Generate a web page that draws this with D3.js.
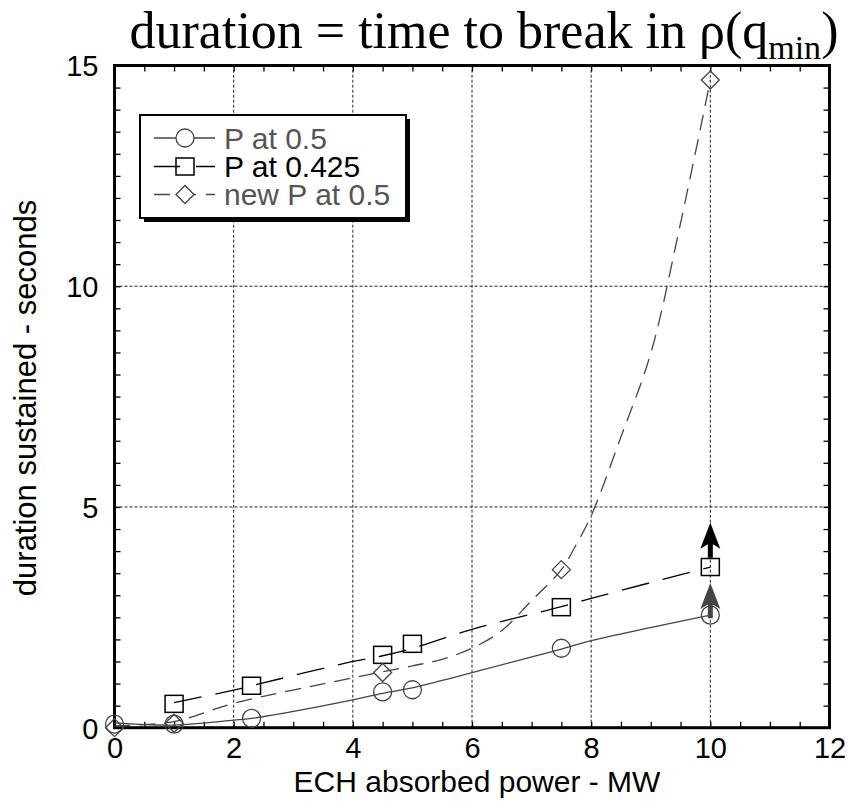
<!DOCTYPE html>
<html>
<head>
<meta charset="utf-8">
<script src="https://cdn.jsdelivr.net/npm/d3@7"></script>
<style>
  body { margin: 0; background: #fff; }
  text { font-family: "Liberation Sans", Arial, sans-serif; }
</style>
</head>
<body>
<svg id="svg1" width="852" height="801"></svg>
<script>
// measured points (ECH power in MW, duration in s)
const powerP05    = [0, 1, 2.3, 4.5, 5, 7.5, 10];
const durP05      = [0.08, 0.08, 0.21, 0.81, 0.86, 1.8, 2.55];
const powerP0425  = [1, 2.3, 4.5, 5, 7.5, 10];
const durP0425    = [0.54, 0.95, 1.65, 1.9, 2.73, 3.64];
const powerNewP   = [0, 1, 4.5, 7.5, 10];
const durNewP     = [0.0, 0.1, 1.25, 3.58, 14.67];

// fitted curves
const fitX05      = [0, 1, 2, 2.3, 4, 4.5, 5, 5.5, 6, 7.5, 8, 10];
const fitY05      = [0.11, 0.06, 0.17, 0.21, 0.63, 0.78, 0.9, 1.07, 1.25, 1.78, 1.97, 2.55];
const fitX0425    = [1, 2, 2.3, 4, 4.5, 5, 6, 7.5, 8, 10];
const fitY0425    = [0.57, 0.85, 0.95, 1.5, 1.63, 1.8, 2.23, 2.74, 2.93, 3.64];
const fitXNew     = [0, 1, 2, 4, 5, 5.5, 6, 6.5, 7, 7.5, 7.75, 8, 8.5, 9, 9.5, 10];
const fitYNew     = [0.04, 0.14, 0.55, 1.13, 1.4, 1.55, 1.8, 2.2, 2.88, 3.58, 4.15, 4.8, 6.59, 8.48, 11.43, 14.67];

// arrows at 10 MW (lower bound markers)
const arrowX      = [10, 10];
const arrowFrom   = [2.48, 3.85];
const arrowTo     = [3.28, 4.64];

const xTicks = d3.range(0, 12.01, 0.5);
const yTicks = d3.range(0, 15.01, 0.5);
const xGrid  = [2, 4, 6, 8, 10];
const yGrid  = [5, 10];

const svg = d3.select("#svg1"),
      x   = d3.scaleLinear().domain([0, 12]).range([114.5, 829.5]),
      y   = d3.scaleLinear().domain([0, 15]).range([727.7, 65.5]),
      fontSize = 29;

// grid
svg.append("g").selectAll("line").data(xGrid).enter().append("line")
    .attr("x1", d => x(d)).attr("x2", d => x(d))
    .attr("y1", y(0)).attr("y2", y(15))
    .attr("stroke", "#222").attr("stroke-width", 1).attr("stroke-dasharray", "3,2");
svg.append("g").selectAll("line").data(yGrid).enter().append("line")
    .attr("x1", x(0)).attr("x2", x(12))
    .attr("y1", d => y(d)).attr("y2", d => y(d))
    .attr("stroke", "#222").attr("stroke-width", 1).attr("stroke-dasharray", "3,2");

// axes, ticks pointing inward
const fmt = d => (d % 2 === 0 ? d : "");
const fmtY = d => (d % 5 === 0 ? d : "");
const axBottom = svg.append("g").attr("transform", `translate(0,${y(0)})`)
    .call(d3.axisBottom(x).tickValues(xTicks).tickSize(-6).tickPadding(10).tickFormat(fmt));
const axTop = svg.append("g").attr("transform", `translate(0,${y(15)})`)
    .call(d3.axisTop(x).tickValues(xTicks).tickSize(-6).tickFormat(""));
const axLeft = svg.append("g").attr("transform", `translate(${x(0)},0)`)
    .call(d3.axisLeft(y).tickValues(yTicks).tickSize(-6).tickPadding(16).tickFormat(fmtY));
const axRight = svg.append("g").attr("transform", `translate(${x(12)},0)`)
    .call(d3.axisRight(y).tickValues(yTicks).tickSize(-6).tickFormat(""));
[axBottom, axTop, axLeft, axRight].forEach(a => {
  a.select(".domain").remove();
  a.selectAll(".tick line").attr("stroke", "#000").attr("stroke-width", 1.3);
  a.selectAll(".tick text").attr("fill", "#000").style("font-size", fontSize + "px")
   .style("font-family", "'Liberation Sans', Arial, sans-serif");
});
axBottom.selectAll(".tick text").attr("dy", "0.71em");
axLeft.selectAll(".tick text").attr("dy", "0.36em");

svg.append("rect")
    .attr("x", x(0)).attr("y", y(15))
    .attr("width", x(12) - x(0)).attr("height", y(0) - y(15))
    .attr("fill", "none").attr("stroke", "#000").attr("stroke-width", 3);

// fitted lines
const line = d3.line().x(d => x(d[0])).y(d => y(d[1])).curve(d3.curveCatmullRom.alpha(0.5));
const zip = (a, b) => a.map((v, i) => [v, b[i]]);

svg.append("path").datum(zip(fitX05, fitY05)).attr("d", line)
    .attr("fill", "none").attr("stroke", "#444").attr("stroke-width", 1.3);
svg.append("path").datum(zip(fitX0425, fitY0425)).attr("d", line)
    .attr("fill", "none").attr("stroke", "#000").attr("stroke-width", 1.3)
    .attr("stroke-dasharray", "28,14");
svg.append("path").datum(zip(fitXNew, fitYNew)).attr("d", line)
    .attr("fill", "none").attr("stroke", "#444").attr("stroke-width", 1.3)
    .attr("stroke-dasharray", "16,9");

// markers
svg.append("g").selectAll("circle").data(zip(powerP05, durP05)).enter().append("circle")
    .attr("cx", d => x(d[0])).attr("cy", d => y(d[1])).attr("r", 9)
    .attr("fill", "none").attr("stroke", "#444").attr("stroke-width", 1.3);
svg.append("g").selectAll("rect").data(zip(powerP0425, durP0425)).enter().append("rect")
    .attr("x", d => x(d[0]) - 9).attr("y", d => y(d[1]) - 8.5).attr("width", 18).attr("height", 17)
    .attr("fill", "none").attr("stroke", "#000").attr("stroke-width", 1.5);
const diamond = (cx, cy, r) => `M${cx},${cy - r}L${cx + r},${cy}L${cx},${cy + r}L${cx - r},${cy}Z`;
svg.append("g").selectAll("path").data(zip(powerNewP, durNewP)).enter().append("path")
    .attr("d", d => diamond(x(d[0]), y(d[1]), 9))
    .attr("fill", "none").attr("stroke", "#444").attr("stroke-width", 1.3);

// arrows
const arrowCol = ["#444", "#000"];
arrowX.forEach((ax, i) => {
  const cx = x(ax), y0 = y(arrowFrom[i]), y1 = y(arrowTo[i]);
  svg.append("line")
      .attr("x1", cx).attr("x2", cx).attr("y1", y0).attr("y2", y1 + 15)
      .attr("stroke", arrowCol[i]).attr("stroke-width", 5);
  svg.append("path")
      .attr("d", `M${cx},${y1}L${cx + 10},${y1 + 26}L${cx},${y1 + 20}L${cx - 10},${y1 + 26}Z`)
      .attr("fill", arrowCol[i]);
});

// legend
const lg = svg.append("g");
lg.append("rect").attr("x", 144).attr("y", 119).attr("width", 266).attr("height", 103).attr("fill", "#000");
lg.append("rect").attr("x", 140).attr("y", 115).attr("width", 266).attr("height", 103)
    .attr("fill", "#fff").attr("stroke", "#000").attr("stroke-width", 2);

const legNames  = ["P at 0.5", "P at 0.425", "new P at 0.5"];
const legCols   = ["#444", "#000", "#444"];
const legDash   = ["none", "26,16", "16,10"];
const legRows   = [138, 166.5, 194.5];
legNames.forEach((name, i) => {
  const cy = legRows[i];
  lg.append("line").attr("x1", 154).attr("x2", 215).attr("y1", cy).attr("y2", cy)
      .attr("stroke", legCols[i]).attr("stroke-width", 1.3).attr("stroke-dasharray", legDash[i]);
  if (i === 0) {
    lg.append("circle").attr("cx", 185).attr("cy", cy).attr("r", 9)
        .attr("fill", "#fff").attr("stroke", legCols[i]).attr("stroke-width", 1.3);
  } else if (i === 1) {
    lg.append("rect").attr("x", 176).attr("y", cy - 8.5).attr("width", 18).attr("height", 17)
        .attr("fill", "none").attr("stroke", legCols[i]).attr("stroke-width", 1.5);
  } else {
    lg.append("path").attr("d", diamond(185, cy, 9))
        .attr("fill", "#fff").attr("stroke", legCols[i]).attr("stroke-width", 1.3);
  }
  lg.append("text").attr("x", 224).attr("y", cy + 10.5)
      .style("font-size", "30px").attr("fill", i === 1 ? "#000" : "#555")
      .text(name);
});

// axis titles
svg.append("text")
    .attr("x", 477).attr("y", 792)
    .attr("text-anchor", "middle")
    .style("font-size", "30px")
    .text("ECH absorbed power - MW");

svg.append("text")
    .attr("transform", "translate(36,398) rotate(-90)")
    .attr("text-anchor", "middle")
    .style("font-size", "31px")
    .text("duration sustained - seconds");

// title
const title = svg.append("text")
    .attr("x", 484).attr("y", 48)
    .attr("text-anchor", "middle")
    .style("font-family", "'Liberation Serif', 'Times New Roman', serif")
    .style("font-size", "52px");
title.append("tspan").text("duration = time to break in ρ(q");
title.append("tspan").attr("dy", 11).style("font-size", "34px").text("min");
title.append("tspan").attr("dy", -11).text(")");
</script>
</body>
</html>
